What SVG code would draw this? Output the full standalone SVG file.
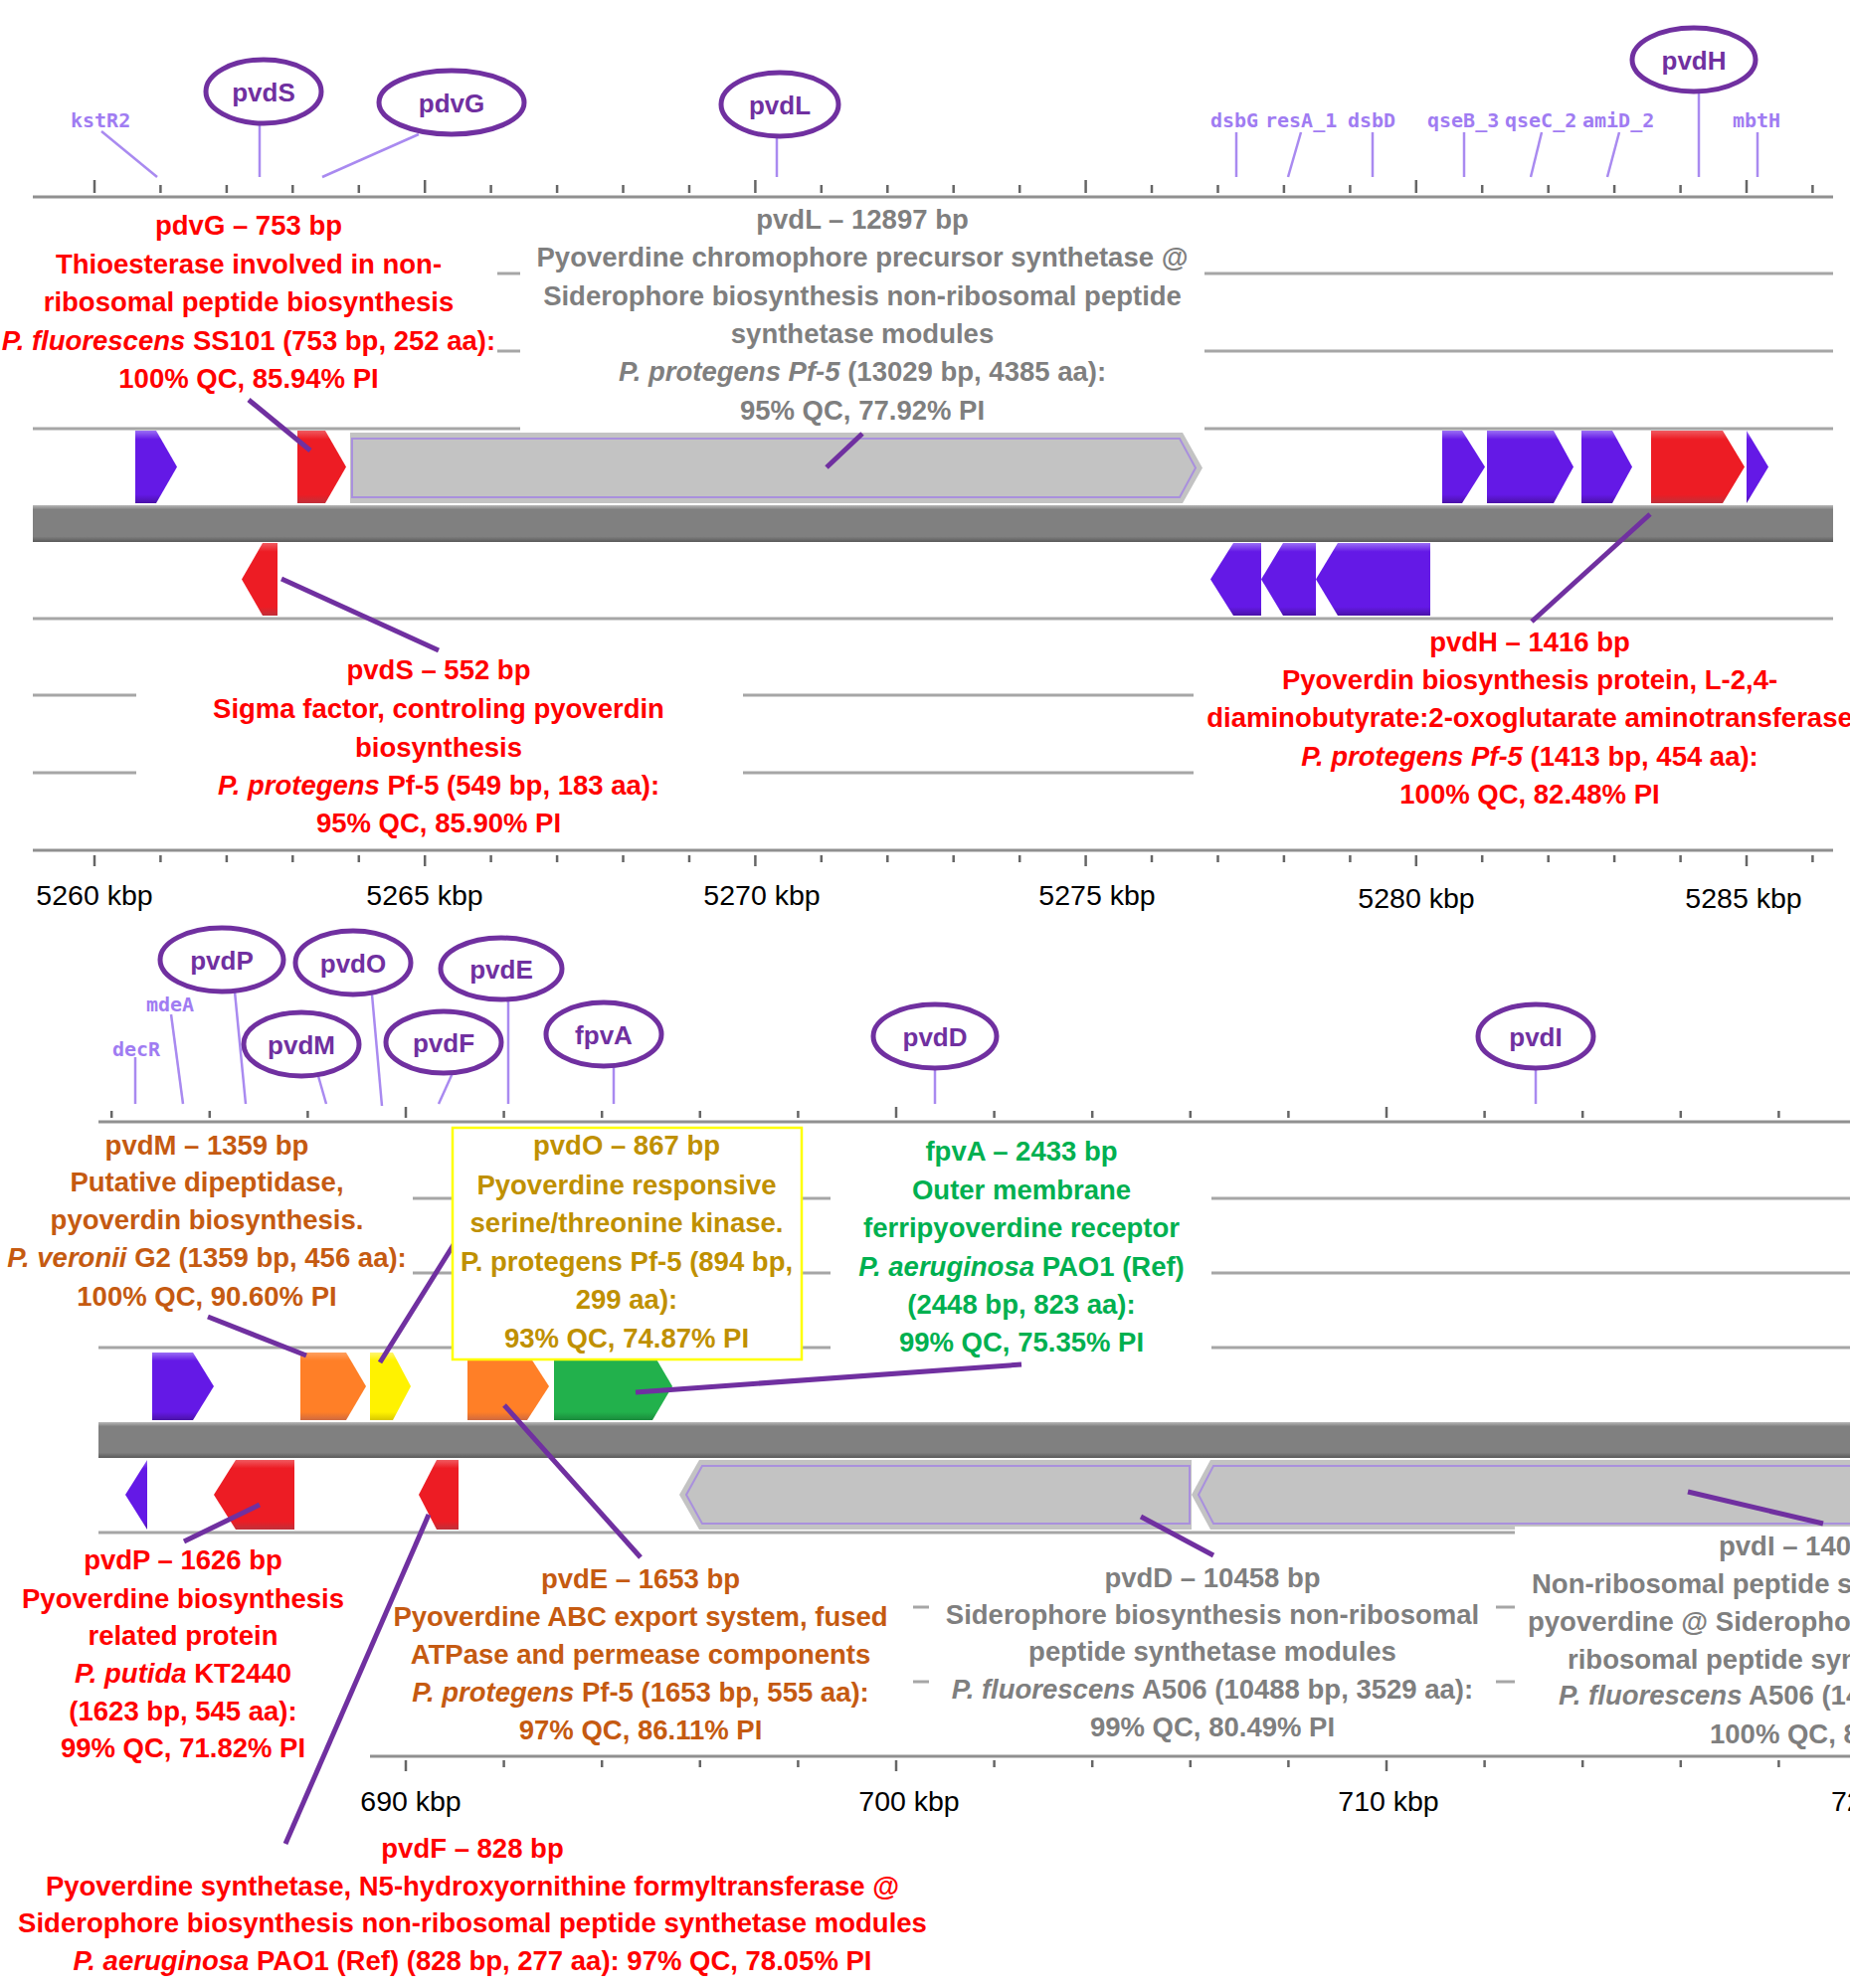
<svg xmlns="http://www.w3.org/2000/svg" width="1860" height="1999" viewBox="0 0 1860 1999">
<style>
.t{font-family:"Liberation Sans",Arial,sans-serif;font-weight:bold;font-size:27.5px;text-anchor:middle}
.red{fill:#ff0000}.gray{fill:#7f7f7f}.org{fill:#c55a11}.gold{fill:#bf9000}.grn{fill:#00b050}
.i{font-style:italic}
.ax{font-family:"Liberation Sans",Arial,sans-serif;font-size:28.5px;fill:#000;text-anchor:middle}
.sm{font-family:"DejaVu Sans Mono",monospace;font-size:20px;fill:#a07cf2}
.el{fill:#fff;stroke:#7030a0;stroke-width:5}
.elt{font-family:"Liberation Sans",Arial,sans-serif;font-weight:bold;font-size:26px;fill:#7030a0;text-anchor:middle}
.ld{stroke:#7030a0;stroke-width:5;fill:none}
.sl{stroke:#a98af0;stroke-width:2.5;fill:none}
.trk{stroke:#a6a6a6;stroke-width:3;fill:none}
.rul{stroke:#909090;stroke-width:3;fill:none}
.tk{stroke:#666;stroke-width:2.5}
.gin{fill:none;stroke:#a990dd;stroke-width:2}
.s{text-anchor:start}
</style>
<defs>
<linearGradient id="gP" x1="0" y1="0" x2="0" y2="1"><stop offset="0" stop-color="#9a6ef5"/><stop offset="0.12" stop-color="#6419e6"/><stop offset="0.88" stop-color="#6419e6"/><stop offset="1" stop-color="#4a12a8"/></linearGradient>
<linearGradient id="gR" x1="0" y1="0" x2="0" y2="1"><stop offset="0" stop-color="#f05a60"/><stop offset="0.12" stop-color="#ed1c24"/><stop offset="0.88" stop-color="#ed1c24"/><stop offset="1" stop-color="#c0303a"/></linearGradient>
<linearGradient id="gO" x1="0" y1="0" x2="0" y2="1"><stop offset="0" stop-color="#ffa060"/><stop offset="0.12" stop-color="#ff7f27"/><stop offset="0.88" stop-color="#ff7f27"/><stop offset="1" stop-color="#d06a40"/></linearGradient>
<linearGradient id="gY" x1="0" y1="0" x2="0" y2="1"><stop offset="0" stop-color="#fff570"/><stop offset="0.12" stop-color="#fff200"/><stop offset="0.88" stop-color="#fff200"/><stop offset="1" stop-color="#d8c800"/></linearGradient>
<linearGradient id="gG" x1="0" y1="0" x2="0" y2="1"><stop offset="0" stop-color="#5ccf80"/><stop offset="0.12" stop-color="#22b14c"/><stop offset="0.88" stop-color="#22b14c"/><stop offset="1" stop-color="#1a8a3c"/></linearGradient>
<linearGradient id="gB" x1="0" y1="0" x2="0" y2="1"><stop offset="0" stop-color="#b8b8b8"/><stop offset="0.12" stop-color="#808080"/><stop offset="0.85" stop-color="#808080"/><stop offset="1" stop-color="#5a5a5a"/></linearGradient>
</defs>
<rect width="1860" height="1999" fill="#fff"/>

<!-- ===== TOP PANEL ===== -->
<g id="top-rulers">
<line class="rul" x1="33" y1="198" x2="1843" y2="198"/>
<line class="rul" x1="33" y1="855" x2="1843" y2="855"/>
<g class="tk">
<line x1="95" y1="181" x2="95" y2="194"/><line x1="161.4" y1="186" x2="161.4" y2="194"/><line x1="227.9" y1="186" x2="227.9" y2="194"/><line x1="294.3" y1="186" x2="294.3" y2="194"/><line x1="360.8" y1="186" x2="360.8" y2="194"/>
<line x1="427.2" y1="181" x2="427.2" y2="194"/><line x1="493.6" y1="186" x2="493.6" y2="194"/><line x1="560.1" y1="186" x2="560.1" y2="194"/><line x1="626.5" y1="186" x2="626.5" y2="194"/><line x1="693" y1="186" x2="693" y2="194"/>
<line x1="759.4" y1="181" x2="759.4" y2="194"/><line x1="825.8" y1="186" x2="825.8" y2="194"/><line x1="892.3" y1="186" x2="892.3" y2="194"/><line x1="958.7" y1="186" x2="958.7" y2="194"/><line x1="1025.2" y1="186" x2="1025.2" y2="194"/>
<line x1="1091.6" y1="181" x2="1091.6" y2="194"/><line x1="1158" y1="186" x2="1158" y2="194"/><line x1="1224.5" y1="186" x2="1224.5" y2="194"/><line x1="1290.9" y1="186" x2="1290.9" y2="194"/><line x1="1357.4" y1="186" x2="1357.4" y2="194"/>
<line x1="1423.8" y1="181" x2="1423.8" y2="194"/><line x1="1490.2" y1="186" x2="1490.2" y2="194"/><line x1="1556.7" y1="186" x2="1556.7" y2="194"/><line x1="1623.1" y1="186" x2="1623.1" y2="194"/><line x1="1689.6" y1="186" x2="1689.6" y2="194"/>
<line x1="1756" y1="181" x2="1756" y2="194"/><line x1="1822.4" y1="186" x2="1822.4" y2="194"/>
<line x1="95" y1="860" x2="95" y2="871"/><line x1="161.4" y1="860" x2="161.4" y2="867"/><line x1="227.9" y1="860" x2="227.9" y2="867"/><line x1="294.3" y1="860" x2="294.3" y2="867"/><line x1="360.8" y1="860" x2="360.8" y2="867"/>
<line x1="427.2" y1="860" x2="427.2" y2="871"/><line x1="493.6" y1="860" x2="493.6" y2="867"/><line x1="560.1" y1="860" x2="560.1" y2="867"/><line x1="626.5" y1="860" x2="626.5" y2="867"/><line x1="693" y1="860" x2="693" y2="867"/>
<line x1="759.4" y1="860" x2="759.4" y2="871"/><line x1="825.8" y1="860" x2="825.8" y2="867"/><line x1="892.3" y1="860" x2="892.3" y2="867"/><line x1="958.7" y1="860" x2="958.7" y2="867"/><line x1="1025.2" y1="860" x2="1025.2" y2="867"/>
<line x1="1091.6" y1="860" x2="1091.6" y2="871"/><line x1="1158" y1="860" x2="1158" y2="867"/><line x1="1224.5" y1="860" x2="1224.5" y2="867"/><line x1="1290.9" y1="860" x2="1290.9" y2="867"/><line x1="1357.4" y1="860" x2="1357.4" y2="867"/>
<line x1="1423.8" y1="860" x2="1423.8" y2="871"/><line x1="1490.2" y1="860" x2="1490.2" y2="867"/><line x1="1556.7" y1="860" x2="1556.7" y2="867"/><line x1="1623.1" y1="860" x2="1623.1" y2="867"/><line x1="1689.6" y1="860" x2="1689.6" y2="867"/>
<line x1="1756" y1="860" x2="1756" y2="871"/><line x1="1822.4" y1="860" x2="1822.4" y2="867"/>
</g>
<text class="ax" x="95" y="910">5260 kbp</text>
<text class="ax" x="427" y="910">5265 kbp</text>
<text class="ax" x="766" y="910">5270 kbp</text>
<text class="ax" x="1103" y="910">5275 kbp</text>
<text class="ax" x="1424" y="913">5280 kbp</text>
<text class="ax" x="1753" y="913">5285 kbp</text>
</g>

<g id="top-tracks">
<line class="trk" x1="500" y1="275" x2="523" y2="275"/><line class="trk" x1="1211" y1="275" x2="1843" y2="275"/>
<line class="trk" x1="500" y1="353" x2="523" y2="353"/><line class="trk" x1="1211" y1="353" x2="1843" y2="353"/>
<line class="trk" x1="33" y1="431" x2="523" y2="431"/><line class="trk" x1="1211" y1="431" x2="1843" y2="431"/>
<line class="trk" x1="33" y1="622" x2="1843" y2="622"/>
<line class="trk" x1="33" y1="699" x2="137" y2="699"/><line class="trk" x1="747" y1="699" x2="1200" y2="699"/>
<line class="trk" x1="33" y1="777" x2="137" y2="777"/><line class="trk" x1="747" y1="777" x2="1200" y2="777"/>
<rect x="33" y="508" width="1810" height="37" fill="url(#gB)"/>
</g>

<g id="top-genes">
<polygon fill="url(#gP)" points="136,433 157,433 178,469.5 157,506 136,506"/>
<polygon id="gene-pdvG" fill="url(#gR)" points="299,433 327,433 348,469.5 327,506 299,506"/>
<g id="gene-pvdL"><polygon fill="#c3c3c3" points="352,435 1189,435 1209,470.5 1189,506 352,506"/><polygon class="gin" points="354,441 1186,441 1202,470.5 1186,500 354,500"/></g>
<polygon fill="url(#gP)" points="1450,433 1470,433 1493,469.5 1470,506 1450,506"/>
<polygon fill="url(#gP)" points="1495,433 1562,433 1582,469.5 1562,506 1495,506"/>
<polygon fill="url(#gP)" points="1590,433 1621,433 1641,469.5 1621,506 1590,506"/>
<polygon id="gene-pvdH" fill="url(#gR)" points="1660,433 1732,433 1754,469.5 1732,506 1660,506"/>
<polygon fill="url(#gP)" points="1756,433 1778,469.5 1756,506"/>
<polygon id="gene-pvdS" fill="url(#gR)" points="279,546 264,546 243,582.5 264,619 279,619"/>
<polygon fill="url(#gP)" points="1268,546 1240,546 1217,582.5 1240,619 1268,619"/>
<polygon fill="url(#gP)" points="1323,546 1290,546 1268,582.5 1290,619 1323,619"/>
<polygon fill="url(#gP)" points="1438,546 1345,546 1323,582.5 1345,619 1438,619"/>
</g>

<!-- ===== BOTTOM PANEL ===== -->
<g id="bottom-rulers">
<line class="rul" x1="99" y1="1128" x2="1860" y2="1128"/>
<line class="rul" x1="372" y1="1766" x2="1860" y2="1766"/>
<g class="tk">
<line x1="112.2" y1="1117" x2="112.2" y2="1124"/><line x1="210.8" y1="1117" x2="210.8" y2="1124"/><line x1="309.4" y1="1117" x2="309.4" y2="1124"/><line x1="408" y1="1113" x2="408" y2="1124"/><line x1="506.6" y1="1117" x2="506.6" y2="1124"/><line x1="605.2" y1="1117" x2="605.2" y2="1124"/>
<line x1="703.8" y1="1117" x2="703.8" y2="1124"/><line x1="802.4" y1="1117" x2="802.4" y2="1124"/><line x1="901" y1="1113" x2="901" y2="1124"/><line x1="999.6" y1="1117" x2="999.6" y2="1124"/><line x1="1098.2" y1="1117" x2="1098.2" y2="1124"/><line x1="1196.8" y1="1117" x2="1196.8" y2="1124"/>
<line x1="1295.4" y1="1117" x2="1295.4" y2="1124"/><line x1="1394" y1="1113" x2="1394" y2="1124"/><line x1="1492.6" y1="1117" x2="1492.6" y2="1124"/><line x1="1591.2" y1="1117" x2="1591.2" y2="1124"/><line x1="1689.8" y1="1117" x2="1689.8" y2="1124"/><line x1="1788.4" y1="1117" x2="1788.4" y2="1124"/>
<line x1="408" y1="1770" x2="408" y2="1781"/><line x1="506.6" y1="1770" x2="506.6" y2="1777"/><line x1="605.2" y1="1770" x2="605.2" y2="1777"/>
<line x1="703.8" y1="1770" x2="703.8" y2="1777"/><line x1="802.4" y1="1770" x2="802.4" y2="1777"/><line x1="901" y1="1770" x2="901" y2="1781"/><line x1="999.6" y1="1770" x2="999.6" y2="1777"/><line x1="1098.2" y1="1770" x2="1098.2" y2="1777"/><line x1="1196.8" y1="1770" x2="1196.8" y2="1777"/>
<line x1="1295.4" y1="1770" x2="1295.4" y2="1777"/><line x1="1394" y1="1770" x2="1394" y2="1781"/><line x1="1492.6" y1="1770" x2="1492.6" y2="1777"/><line x1="1591.2" y1="1770" x2="1591.2" y2="1777"/><line x1="1689.8" y1="1770" x2="1689.8" y2="1777"/><line x1="1788.4" y1="1770" x2="1788.4" y2="1777"/>
</g>
<text class="ax" x="413" y="1821">690 kbp</text>
<text class="ax" x="914" y="1821">700 kbp</text>
<text class="ax" x="1396" y="1821">710 kbp</text>
<text class="ax" x="1841" y="1821" style="text-anchor:start">720 kbp</text>
</g>

<g id="bottom-tracks">
<line class="trk" x1="415" y1="1205" x2="455" y2="1205"/><line class="trk" x1="807" y1="1205" x2="835" y2="1205"/><line class="trk" x1="1218" y1="1205" x2="1860" y2="1205"/>
<line class="trk" x1="415" y1="1280" x2="455" y2="1280"/><line class="trk" x1="807" y1="1280" x2="835" y2="1280"/><line class="trk" x1="1218" y1="1280" x2="1860" y2="1280"/>
<line class="trk" x1="99" y1="1355" x2="455" y2="1355"/><line class="trk" x1="807" y1="1355" x2="835" y2="1355"/><line class="trk" x1="1218" y1="1355" x2="1860" y2="1355"/>
<line class="trk" x1="99" y1="1541" x2="1523" y2="1541"/>
<line class="trk" x1="918" y1="1616" x2="934" y2="1616"/><line class="trk" x1="1504" y1="1616" x2="1523" y2="1616"/>
<line class="trk" x1="918" y1="1691" x2="934" y2="1691"/><line class="trk" x1="1504" y1="1691" x2="1523" y2="1691"/>
<rect x="99" y="1430" width="1761" height="36" fill="url(#gB)"/>
</g>

<g id="bottom-genes">
<polygon fill="url(#gP)" points="153,1360 194,1360 215,1394 194,1428 153,1428"/>
<polygon id="gene-pvdM" fill="url(#gO)" points="302,1360 348,1360 368,1394 348,1428 302,1428"/>
<polygon id="gene-pvdO" fill="url(#gY)" points="372,1360 395,1360 413,1394 395,1428 372,1428"/>
<polygon id="gene-pvdE" fill="url(#gO)" points="470,1360 530,1360 552,1394 530,1428 470,1428"/>
<polygon id="gene-fpvA" fill="url(#gG)" points="557,1360 656,1360 676,1394 656,1428 557,1428"/>
<polygon fill="url(#gP)" points="148,1468 126,1503 148,1538"/>
<polygon id="gene-pvdP" fill="url(#gR)" points="296,1468 237,1468 215,1503 237,1538 296,1538"/>
<polygon id="gene-pvdF" fill="url(#gR)" points="461,1468 439,1468 421,1503 439,1538 461,1538"/>
<g id="gene-pvdD"><polygon fill="#c3c3c3" points="1198,1468 703,1468 683,1503 703,1538 1198,1538"/><polygon class="gin" points="1196,1474 706,1474 690,1503 706,1532 1196,1532"/></g>
<g id="gene-pvdI"><polygon fill="#c3c3c3" points="1870,1468 1217,1468 1198,1503 1217,1538 1870,1538"/><polygon class="gin" points="1870,1474 1220,1474 1205,1503 1220,1532 1870,1532"/></g>
<rect x="1523" y="1535" width="337" height="229" fill="#fff"/>
</g>

<!-- ===== CONNECTORS ===== -->
<g id="connectors">
<line class="sl" x1="102" y1="132" x2="158" y2="178"/>
<line class="sl" x1="261" y1="126" x2="261" y2="178"/>
<line class="sl" x1="421" y1="135" x2="324" y2="178"/>
<line class="sl" x1="781" y1="137" x2="781" y2="178"/>
<line class="sl" x1="1243" y1="133" x2="1243" y2="178"/>
<line class="sl" x1="1308" y1="133" x2="1295" y2="178"/>
<line class="sl" x1="1380" y1="133" x2="1380" y2="178"/>
<line class="sl" x1="1472" y1="133" x2="1472" y2="178"/>
<line class="sl" x1="1550" y1="133" x2="1539" y2="178"/>
<line class="sl" x1="1628" y1="133" x2="1616" y2="178"/>
<line class="sl" x1="1708" y1="93" x2="1708" y2="178"/>
<line class="sl" x1="1767" y1="133" x2="1767" y2="178"/>
<line class="sl" x1="136" y1="1063" x2="136" y2="1110"/>
<line class="sl" x1="172" y1="1020" x2="184" y2="1110"/>
<line class="sl" x1="236" y1="997" x2="247" y2="1110"/>
<line class="sl" x1="320" y1="1082" x2="328" y2="1110"/>
<line class="sl" x1="374" y1="1000" x2="384" y2="1112"/>
<line class="sl" x1="455" y1="1079" x2="441" y2="1110"/>
<line class="sl" x1="511" y1="1005" x2="511" y2="1110"/>
<line class="sl" x1="617" y1="1072" x2="617" y2="1110"/>
<line class="sl" x1="940" y1="1074" x2="940" y2="1110"/>
<line class="sl" x1="1544" y1="1074" x2="1544" y2="1110"/>
<line class="ld" x1="250" y1="402" x2="312" y2="453"/>
<line class="ld" x1="867" y1="436" x2="831" y2="470"/>
<line class="ld" x1="283" y1="582" x2="441" y2="654"/>
<line class="ld" x1="1659" y1="517" x2="1540" y2="625"/>
<line class="ld" x1="209" y1="1324" x2="308" y2="1363"/>
<line class="ld" x1="457" y1="1250" x2="382" y2="1370"/>
<line class="ld" x1="1027" y1="1372" x2="639" y2="1400"/>
<line class="ld" x1="507" y1="1413" x2="644" y2="1566"/>
<line class="ld" x1="261" y1="1513" x2="185" y2="1550"/>
<line class="ld" x1="431" y1="1523" x2="287" y2="1854"/>
<line class="ld" x1="1147" y1="1525" x2="1220" y2="1564"/>
<line class="ld" x1="1697" y1="1500" x2="1833" y2="1532"/>
</g>

<!-- small feature labels -->
<g id="feature-labels" font-weight="bold">
<text class="sm" x="71" y="128">kstR2</text>
<text class="sm" x="1217" y="128">dsbG</text>
<text class="sm" x="1272" y="128">resA_1</text>
<text class="sm" x="1355" y="128">dsbD</text>
<text class="sm" x="1435" y="128">qseB_3</text>
<text class="sm" x="1513" y="128">qseC_2</text>
<text class="sm" x="1591" y="128">amiD_2</text>
<text class="sm" x="1742" y="128">mbtH</text>
<text class="sm" x="113" y="1062">decR</text>
<text class="sm" x="147" y="1017">mdeA</text>
</g>

<!-- ellipse gene tags -->
<g id="tag-pvdS"><ellipse class="el" cx="265" cy="92" rx="58" ry="32"/><text class="elt" x="265" y="102">pvdS</text></g>
<g id="tag-pdvG"><ellipse class="el" cx="454" cy="103" rx="73" ry="32"/><text class="elt" x="454" y="113">pdvG</text></g>
<g id="tag-pvdL"><ellipse class="el" cx="784" cy="105" rx="59" ry="32"/><text class="elt" x="784" y="115">pvdL</text></g>
<g id="tag-pvdH"><ellipse class="el" cx="1703" cy="60" rx="62" ry="32"/><text class="elt" x="1703" y="70">pvdH</text></g>
<g id="tag-pvdP"><ellipse class="el" cx="223" cy="965" rx="62" ry="32"/><text class="elt" x="223" y="975">pvdP</text></g>
<g id="tag-pvdO"><ellipse class="el" cx="355" cy="968" rx="58" ry="32"/><text class="elt" x="355" y="978">pvdO</text></g>
<g id="tag-pvdM"><ellipse class="el" cx="303" cy="1050" rx="58" ry="32"/><text class="elt" x="303" y="1060">pvdM</text></g>
<g id="tag-pvdF"><ellipse class="el" cx="446" cy="1048" rx="58" ry="31"/><text class="elt" x="446" y="1058">pvdF</text></g>
<g id="tag-pvdE"><ellipse class="el" cx="504" cy="974" rx="61" ry="31"/><text class="elt" x="504" y="984">pvdE</text></g>
<g id="tag-fpvA"><ellipse class="el" cx="607" cy="1040" rx="58" ry="32"/><text class="elt" x="607" y="1050">fpvA</text></g>
<g id="tag-pvdD"><ellipse class="el" cx="940" cy="1042" rx="62" ry="32"/><text class="elt" x="940" y="1052">pvdD</text></g>
<g id="tag-pvdI"><ellipse class="el" cx="1544" cy="1042" rx="58" ry="32"/><text class="elt" x="1544" y="1052">pvdI</text></g>

<!-- annotation blocks -->
<g id="note-pdvG" class="t red">
<text x="250" y="236">pdvG – 753 bp</text>
<text x="250" y="275">Thioesterase involved in non-</text>
<text x="250" y="313">ribosomal peptide biosynthesis</text>
<text x="250" y="352"><tspan class="i">P. fluorescens</tspan> SS101 (753 bp, 252 aa):</text>
<text x="250" y="390">100% QC, 85.94% PI</text>
</g>
<g id="note-pvdL" class="t gray">
<text x="867" y="230">pvdL – 12897 bp</text>
<text x="867" y="268">Pyoverdine chromophore precursor synthetase @</text>
<text x="867" y="307">Siderophore biosynthesis non-ribosomal peptide</text>
<text x="867" y="345">synthetase modules</text>
<text x="867" y="383"><tspan class="i">P. protegens Pf-5</tspan> (13029 bp, 4385 aa):</text>
<text x="867" y="422">95% QC, 77.92% PI</text>
</g>
<g id="note-pvdS" class="t red">
<text x="441" y="683">pvdS – 552 bp</text>
<text x="441" y="722">Sigma factor, controling pyoverdin</text>
<text x="441" y="761">biosynthesis</text>
<text x="441" y="799"><tspan class="i">P. protegens</tspan> Pf-5 (549 bp, 183 aa):</text>
<text x="441" y="837">95% QC, 85.90% PI</text>
</g>
<g id="note-pvdH" class="t red">
<text x="1538" y="655">pvdH – 1416 bp</text>
<text x="1538" y="693">Pyoverdin biosynthesis protein, L-2,4-</text>
<text x="1538" y="731">diaminobutyrate:2-oxoglutarate aminotransferase</text>
<text x="1538" y="770"><tspan class="i">P. protegens Pf-5</tspan> (1413 bp, 454 aa):</text>
<text x="1538" y="808">100% QC, 82.48% PI</text>
</g>
<g id="note-pvdM" class="t org">
<text x="208" y="1161">pvdM – 1359 bp</text>
<text x="208" y="1198">Putative dipeptidase,</text>
<text x="208" y="1236">pyoverdin biosynthesis.</text>
<text x="208" y="1274"><tspan class="i">P. veronii</tspan> G2 (1359 bp, 456 aa):</text>
<text x="208" y="1313">100% QC, 90.60% PI</text>
</g>
<g id="note-pvdO">
<rect x="455" y="1134" width="351" height="233" fill="#fff" stroke="#ffff00" stroke-width="2.5"/>
<g class="t gold">
<text x="630" y="1161">pvdO – 867 bp</text>
<text x="630" y="1201">Pyoverdine responsive</text>
<text x="630" y="1239">serine/threonine kinase.</text>
<text x="630" y="1278">P. protegens Pf-5 (894 bp,</text>
<text x="630" y="1316">299 aa):</text>
<text x="630" y="1355">93% QC, 74.87% PI</text>
</g>
</g>
<g id="note-fpvA" class="t grn">
<text x="1027" y="1167">fpvA – 2433 bp</text>
<text x="1027" y="1206">Outer membrane</text>
<text x="1027" y="1244">ferripyoverdine receptor</text>
<text x="1027" y="1283"><tspan class="i">P. aeruginosa</tspan> PAO1 (Ref)</text>
<text x="1027" y="1321">(2448 bp, 823 aa):</text>
<text x="1027" y="1359">99% QC, 75.35% PI</text>
</g>
<g id="note-pvdE" class="t org">
<text x="644" y="1597">pvdE – 1653 bp</text>
<text x="644" y="1635">Pyoverdine ABC export system, fused</text>
<text x="644" y="1673">ATPase and permease components</text>
<text x="644" y="1711"><tspan class="i">P. protegens</tspan> Pf-5 (1653 bp, 555 aa):</text>
<text x="644" y="1749">97% QC, 86.11% PI</text>
</g>
<g id="note-pvdP" class="t red">
<text x="184" y="1578">pvdP – 1626 bp</text>
<text x="184" y="1617">Pyoverdine biosynthesis</text>
<text x="184" y="1654">related protein</text>
<text x="184" y="1692"><tspan class="i">P. putida</tspan> KT2440</text>
<text x="184" y="1730">(1623 bp, 545 aa):</text>
<text x="184" y="1767">99% QC, 71.82% PI</text>
</g>
<g id="note-pvdF" class="t red">
<text x="475" y="1868">pvdF – 828 bp</text>
<text x="475" y="1906">Pyoverdine synthetase, N5-hydroxyornithine formyltransferase @</text>
<text x="475" y="1943">Siderophore biosynthesis non-ribosomal peptide synthetase modules</text>
<text x="475" y="1981"><tspan class="i">P. aeruginosa</tspan> PAO1 (Ref) (828 bp, 277 aa): 97% QC, 78.05% PI</text>
</g>
<g id="note-pvdD" class="t gray">
<text x="1219" y="1596">pvdD – 10458 bp</text>
<text x="1219" y="1633">Siderophore biosynthesis non-ribosomal</text>
<text x="1219" y="1670">peptide synthetase modules</text>
<text x="1219" y="1708"><tspan class="i">P. fluorescens</tspan> A506 (10488 bp, 3529 aa):</text>
<text x="1219" y="1746">99% QC, 80.49% PI</text>
</g>
<g id="note-pvdI" class="t gray">
<text style="text-anchor:start" x="1728" y="1564">pvdI – 140</text>
<text style="text-anchor:start" x="1540" y="1602">Non-ribosomal peptide s</text>
<text style="text-anchor:start" x="1536" y="1640">pyoverdine @ Sideropho</text>
<text style="text-anchor:start" x="1576" y="1678">ribosomal peptide syn</text>
<text style="text-anchor:start" x="1567" y="1714"><tspan class="i">P. fluorescens</tspan> A506 (14</text>
<text style="text-anchor:start" x="1719" y="1753">100% QC, 8</text>
</g>
</svg>
